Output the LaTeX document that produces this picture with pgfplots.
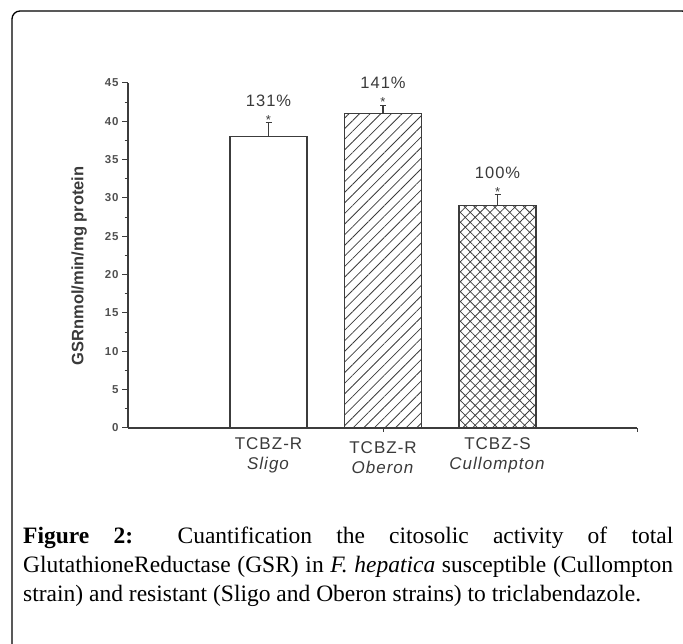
\documentclass[border=0pt]{standalone}
\usepackage{fontspec}
\setmainfont{Liberation Serif}
\newfontfamily\chartfont[LetterSpace=6]{Liberation Sans}
\newfontfamily\chartplain{Liberation Sans}
\usepackage{pgfplots}
\pgfplotsset{compat=1.18}
\usetikzlibrary{patterns.meta}
\definecolor{axg}{HTML}{3C3C3C}
\definecolor{txg}{HTML}{3A3A3A}
\definecolor{tickg}{HTML}{505050}
\begin{document}
\begin{tikzpicture}
\useasboundingbox (0pt,0pt) rectangle (683pt,643pt);
\draw[line width=1.3pt, rounded corners=8pt] (12pt,632pt) rectangle (690pt,-14pt);
\begin{axis}[
  at={(128pt,215pt)}, anchor=south west,
  scale only axis, width=509pt, height=345pt,
  xmin=-0.227, xmax=4.218, ymin=0, ymax=45,
  axis lines=left,
  axis line style={-, draw=axg, line width=1.2pt},
  ytick={0,5,...,45}, minor y tick num=1,
  tick align=outside, major tick length=6pt, minor tick length=3.5pt,
  every tick/.style={draw=axg, line width=1pt},
  /pgf/number format/assume math mode=true,
  yticklabel style={font=\chartfont\bfseries\fontsize{11.5pt}{12pt}\selectfont, text=tickg, anchor=east},
  xtick={1,2,3},
  xtick style={draw=none},
  xticklabels={{TCBZ-R\\\textit{Sligo}},{\rule{0pt}{16pt}TCBZ-R\\\textit{Oberon}},{TCBZ-S\\\textit{Cullompton}}},
  xticklabel style={align=center, font=\chartfont\fontsize{17pt}{20pt}\selectfont, text=txg, anchor=north},
  extra x ticks={2,4.218}, extra x tick labels={},
  extra x tick style={xtick style={draw=axg, line width=1pt}, major tick length=4pt},
  ylabel={GSRnmol/min/mg protein},
  ylabel style={font=\chartplain\bfseries\fontsize{16.5pt}{18pt}\selectfont, text=txg, at={(axis description cs:-0.096,0.47)}, anchor=center},
  clip=false,
]
\addplot[ybar, bar width=0.672, draw=axg, line width=1.2pt, fill=white,
  error bars/.cd, y dir=plus, y explicit,
  error bar style={draw=axg, line width=1.1pt},
  error mark options={draw=axg, line width=1.1pt, mark size=3pt, rotate=90}]
  coordinates {(1,38) +- (0,1.9)};
\addplot[ybar, bar width=0.672, draw=axg, line width=1.2pt,
  pattern={Lines[angle=45,distance=7.5pt,line width=0.8pt]}, pattern color=axg,
  error bars/.cd, y dir=plus, y explicit,
  error bar style={draw=axg, line width=1.1pt},
  error mark options={draw=axg, line width=1.1pt, mark size=3pt, rotate=90}]
  coordinates {(2,41) +- (0,1.1)};
\addplot[ybar, bar width=0.672, draw=axg, line width=1.2pt,
  pattern={Hatch[angle=45,distance=7pt,line width=0.75pt]}, pattern color=axg,
  error bars/.cd, y dir=plus, y explicit,
  error bar style={draw=axg, line width=1.1pt},
  error mark options={draw=axg, line width=1.1pt, mark size=3pt, rotate=90}]
  coordinates {(3,29) +- (0,1.4)};
\node[font=\chartfont\fontsize{16.5pt}{18pt}\selectfont, text=txg] at (axis cs:1,42.65) {131\%};
\node[font=\chartfont\fontsize{16.5pt}{18pt}\selectfont, text=txg] at (axis cs:2,45.0) {141\%};
\node[font=\chartfont\fontsize{16.5pt}{18pt}\selectfont, text=txg] at (axis cs:3,33.3) {100\%};
\node[font=\chartplain\fontsize{13pt}{14pt}\selectfont, text=txg, anchor=base] at (axis cs:1,39.6) {*};
\node[font=\chartplain\fontsize{13pt}{14pt}\selectfont, text=txg, anchor=base] at (axis cs:2,41.9) {*};
\node[font=\chartplain\fontsize{13pt}{14pt}\selectfont, text=txg, anchor=base] at (axis cs:3,30.15) {*};
\end{axis}
\node[anchor=north west, inner sep=0pt, text width=650pt, align=justify,
  font=\fontsize{23.5pt}{29pt}\selectfont] at (23pt,116pt)
  {\tolerance=10000\hyphenpenalty=10000
   \textbf{Figure 2:} Cuantification the citosolic activity of total\linebreak
   GlutathioneReductase (GSR) in \textit{F. hepatica} susceptible (Cullompton\linebreak
   strain) and resistant (Sligo and Oberon strains) to triclabendazole.};
\end{tikzpicture}
\end{document}
